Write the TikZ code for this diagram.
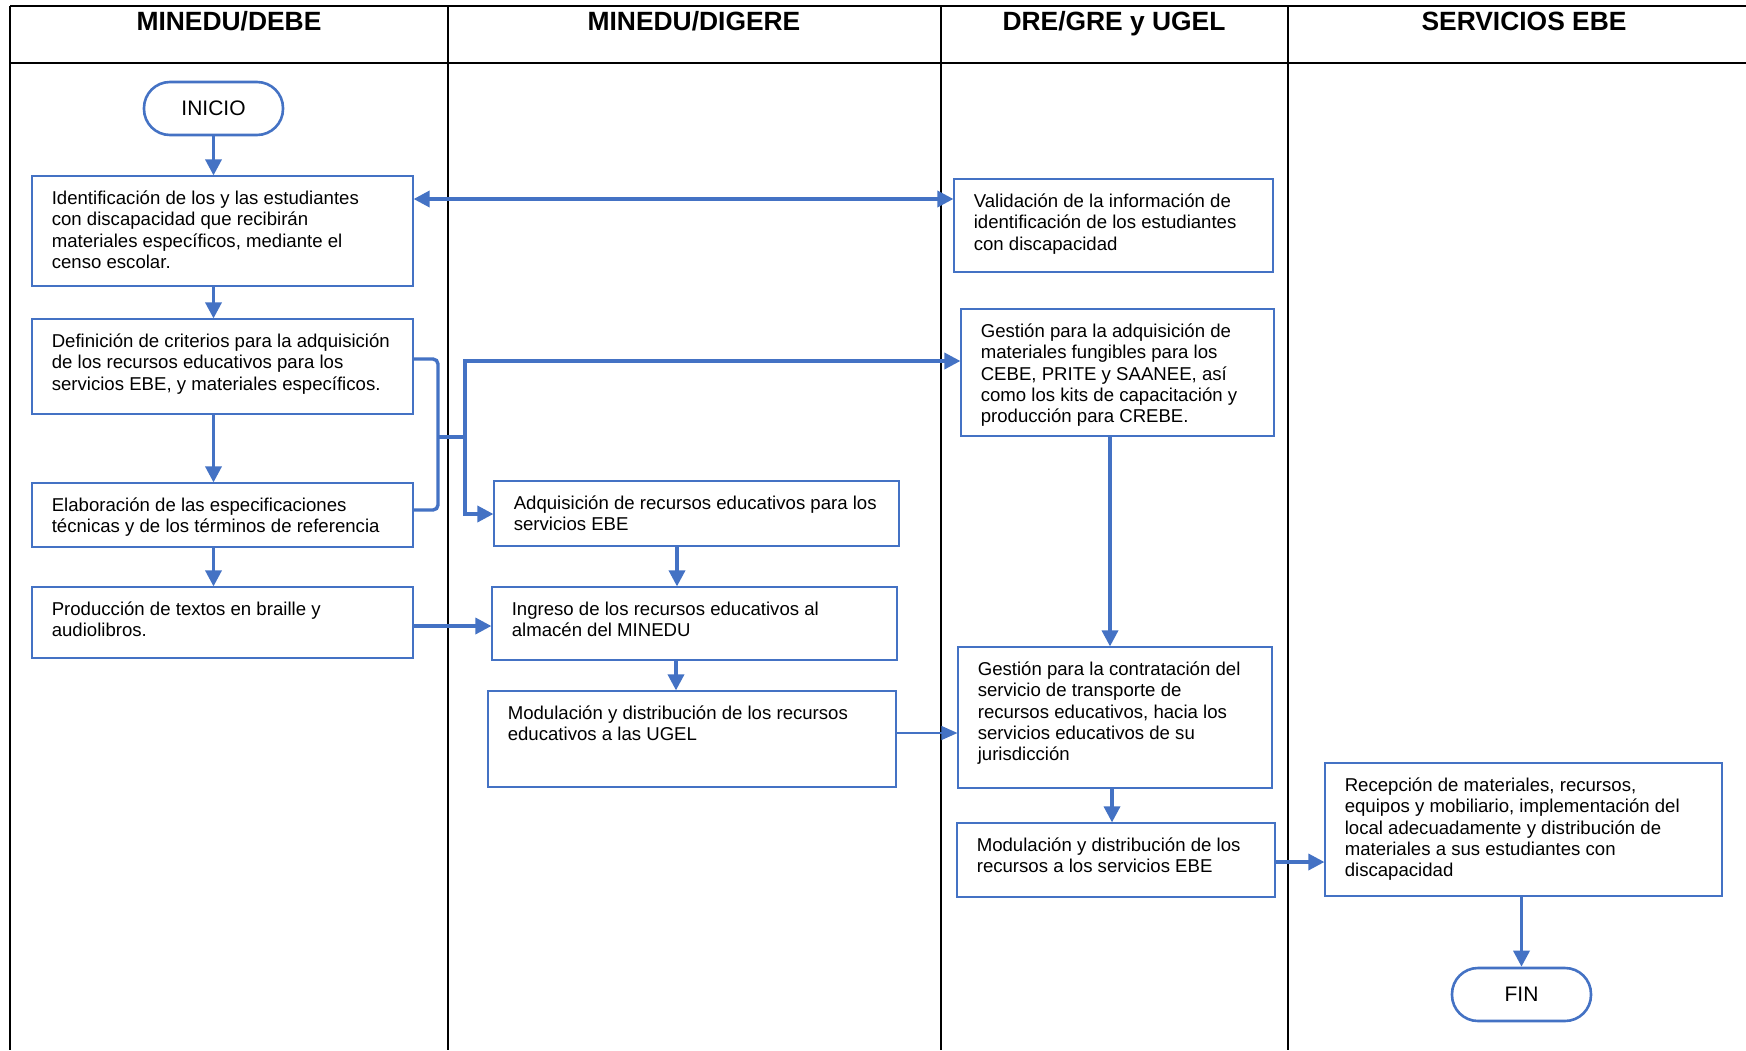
\documentclass[tikz,border=0pt]{standalone}
\usepackage{fontspec}
\setmainfont{Liberation Sans}
\usetikzlibrary{arrows.meta,calc}
\definecolor{fblue}{HTML}{4472C4}
\newcommand\mkbox[6]{%
  \node[box, minimum width={(#4-#2)*0.5pt}, minimum height={(#5-#3)*0.5pt}] (#1) at ({(#2+#4)/2},{(#3+#5)/2}) {};
  \node[txt] (#1t) at ($(#1.north west)+(20,14)$) {\strut #6};
}
\begin{document}
\begin{tikzpicture}[x=0.5pt,y=-0.5pt,
  box/.style={draw=fblue, line width=0.6pt, rectangle, inner sep=0pt, fill=white},
  txt/.style={font=\fontsize{9.3}{10.6}\selectfont, align=left, inner sep=0pt, anchor=north west},
  term/.style={draw=fblue, line width=1.3pt, rectangle, rounded corners=13pt, inner sep=0pt, font=\fontsize{10.5}{12}\selectfont},
  head/.style={font=\fontsize{13.2}{15}\selectfont\bfseries, anchor=base, inner sep=0pt},
  lane/.style={line width=1pt, black},
  conn/.style={draw=fblue, line width=1.7pt},
  arr/.style={conn, -{Triangle[length=8pt,width=8pt]}},
  thinarr/.style={draw=fblue, line width=0.6pt, -{Triangle[length=8pt,width=7pt]}}
]
\useasboundingbox (0,0) rectangle (1746,1050);
\fill[white] (0,0) rectangle (1746,1050);

% swimlane grid
\coordinate (gtl) at (10,6);
\coordinate (gtr) at (1746,6);
\coordinate (ghl) at (10,63);
\coordinate (ghr) at (1746,63);
\draw[lane] (gtl) -- (gtr);
\draw[lane] (ghl) -- (ghr);
\foreach \xx/\nm in {10/l0,448/l1,941/l2,1288/l3}{
  \coordinate (\nm a) at (\xx,6);
  \coordinate (\nm b) at (\xx,1050);
  \draw[lane] (\nm a) -- (\nm b);
}

% headers
\node[head] (h1) at (229,30) {MINEDU/DEBE};
\node[head] (h2) at (694,30) {MINEDU/DIGERE};
\node[head] (h3) at (1114,30) {DRE/GRE y UGEL};
\node[head] (h4) at (1524,30) {SERVICIOS EBE};

% terminals
\node[term, minimum width=69.5pt, minimum height=26.5pt] (ini) at (213.5,108.5) {INICIO};
\node[term, minimum width=69.5pt, minimum height=26.5pt] (fin) at (1521.5,994.5) {FIN};

% boxes
\mkbox{b1}{32}{176}{413}{286}{Identificación de los y las estudiantes\\con discapacidad que recibirán\\materiales específicos, mediante el\\censo escolar.}
\mkbox{b2}{32}{319}{413}{414}{Definición de criterios para la adquisición\\de los recursos educativos para los\\servicios EBE, y materiales específicos.}
\mkbox{b3}{32}{483}{413}{547}{Elaboración de las especificaciones\\técnicas y de los términos de referencia}
\mkbox{b4}{32}{587}{413}{658}{Producción de textos en braille y\\audiolibros.}
\mkbox{b5}{494}{481}{899}{546}{Adquisición de recursos educativos para los\\servicios EBE}
\mkbox{b6}{492}{587}{897}{660}{Ingreso de los recursos educativos al\\almacén del MINEDU}
\mkbox{b7}{488}{691}{896}{787}{Modulación y distribución de los recursos\\educativos a las UGEL}
\mkbox{b8}{954}{179}{1273}{272}{Validación de la información de\\identificación de los estudiantes\\con discapacidad}
\mkbox{b9}{961}{309}{1274}{436}{Gestión para la adquisición de\\materiales fungibles para los\\CEBE, PRITE y SAANEE, así\\como los kits de capacitación y\\producción para CREBE.}
\mkbox{b10}{958}{647}{1272}{788}{Gestión para la contratación del\\servicio de transporte de\\recursos educativos, hacia los\\servicios educativos de su\\jurisdicción}
\mkbox{b11}{957}{823}{1275}{897}{Modulación y distribución de los\\recursos a los servicios EBE}
\mkbox{b12}{1325}{763}{1722}{896}{Recepción de materiales, recursos,\\equipos y mobiliario, implementación del\\local adecuadamente y distribución de\\materiales a sus estudiantes con\\discapacidad}

% helper coordinates
\coordinate (r199) at (0,199);
\coordinate (r359) at (0,359);
\coordinate (r361) at (0,361);
\coordinate (r510) at (0,510);
\coordinate (r514) at (0,514);
\coordinate (r626) at (0,626);
\coordinate (r733) at (0,733);
\coordinate (r862) at (0,862);
\coordinate (c677) at (677,0);
\coordinate (c676) at (676,0);
\coordinate (c1110) at (1110,0);
\coordinate (c1112) at (1112,0);
\coordinate (br1) at (438,359);
\coordinate (br2) at (438,510);
\coordinate (jn) at (438,437);
\coordinate (sp) at (465,437);
\coordinate (spu) at (465,361);
\coordinate (spd) at (465,514);

% left column flow
\draw[arr] (ini.south) -- (ini.south |- b1.north);
\draw[arr] (ini.south |- b1.south) -- (ini.south |- b2.north);
\draw[arr] (ini.south |- b2.south) -- (ini.south |- b3.north);
\draw[arr] (ini.south |- b3.south) -- (ini.south |- b4.north);

% b1 <-> b8
\draw[conn, {Triangle[length=8pt,width=8pt]}-{Triangle[length=8pt,width=8pt]}] (b1.east |- r199) -- (b8.west |- r199);

% bracket from b2 and b3
\draw[conn, rounded corners=2.5pt] (b2.east |- r359) -- (br1) -- (br2) -- (b3.east |- r510);
\draw[conn] (jn) -- (sp);
\draw[arr] (spd) -- (spu) -- (b9.west |- r361);
\draw[arr] (sp) -- (spd) -- (b5.west |- r514);

% b4 -> b6
\draw[arr] (b4.east |- r626) -- (b6.west |- r626);

% middle column
\draw[arr] (c677 |- b5.south) -- (c677 |- b6.north);
\draw[arr] (c676 |- b6.south) -- (c676 |- b7.north);
\draw[thinarr] (b7.east |- r733) -- (b10.west |- r733);

% right columns
\draw[arr] (c1110 |- b9.south) -- (c1110 |- b10.north);
\draw[arr] (c1112 |- b10.south) -- (c1112 |- b11.north);
\draw[arr] (b11.east |- r862) -- (b12.west |- r862);
\draw[arr] (fin.north |- b12.south) -- (fin.north);
\end{tikzpicture}
\end{document}
